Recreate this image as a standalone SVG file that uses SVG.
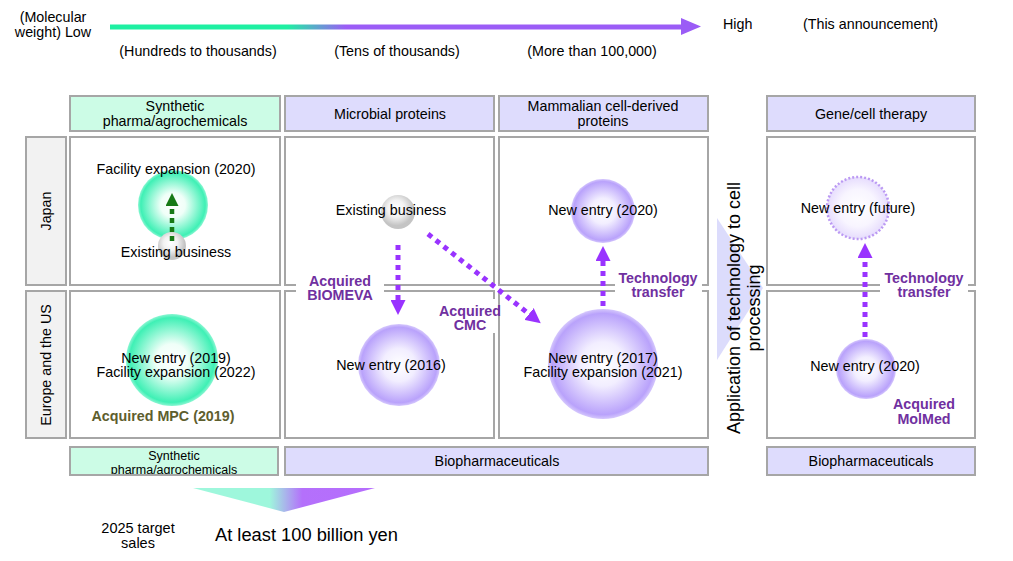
<svg xmlns="http://www.w3.org/2000/svg" width="1013" height="561" viewBox="0 0 1013 561">
<defs>
<style>
text{font-family:"Liberation Sans",Arial,sans-serif;font-size:14.3px;fill:#000}
.m{text-anchor:middle}
.b{font-weight:bold;fill:#7030a0}
.ol{font-weight:bold;fill:#5e5e2e}
.hg{fill:#ccfce6;stroke:#a6a6a6;stroke-width:2}
.hp{fill:#dedcfd;stroke:#a6a6a6;stroke-width:2}
.side{fill:#f2f2f2;stroke:#a6a6a6;stroke-width:2}
.cell{fill:#fff;stroke:#a6a6a6;stroke-width:2}
.pa{fill:none;stroke:#9933ff;stroke-width:5;stroke-dasharray:5 5}
.ga{fill:none;stroke:#177a17;stroke-width:4.5;stroke-dasharray:5 4}
.wb{fill:#fff}
</style>
<radialGradient id="gG"><stop offset="0" stop-color="#fff"/><stop offset="0.35" stop-color="#effff8"/><stop offset="0.92" stop-color="#3ff0b5"/><stop offset="1" stop-color="#3ff0b5" stop-opacity="0.6"/></radialGradient>
<radialGradient id="gP"><stop offset="0" stop-color="#fff"/><stop offset="0.4" stop-color="#f2eeff"/><stop offset="0.92" stop-color="#b9a2fb"/><stop offset="1" stop-color="#b9a2fb" stop-opacity="0.6"/></radialGradient>
<radialGradient id="gF"><stop offset="0" stop-color="#fff"/><stop offset="0.6" stop-color="#f8f5ff"/><stop offset="1" stop-color="#e6dcfd"/></radialGradient>
<radialGradient id="gR" cx="0.45" cy="0.4"><stop offset="0" stop-color="#fff"/><stop offset="0.5" stop-color="#f2f2f2"/><stop offset="1" stop-color="#c4c4c4"/></radialGradient>
<linearGradient id="topG" gradientUnits="userSpaceOnUse" x1="110" y1="0" x2="700" y2="0"><stop offset="0" stop-color="#1ef0a2"/><stop offset="0.3" stop-color="#1ef0a2"/><stop offset="0.4" stop-color="#9b5cf6"/><stop offset="1" stop-color="#9b5cf6"/></linearGradient>
<linearGradient id="funG" gradientUnits="userSpaceOnUse" x1="193" y1="0" x2="375" y2="0"><stop offset="0" stop-color="#9ef7dc"/><stop offset="0.42" stop-color="#9ef7dc"/><stop offset="0.6" stop-color="#b470fb"/><stop offset="1" stop-color="#b66dfd"/></linearGradient>
<marker id="ahP" viewBox="0 0 14 14" markerUnits="userSpaceOnUse" markerWidth="15" markerHeight="15" refX="0" refY="7" orient="auto"><path d="M0,0 L14,7 L0,14 z" fill="#9933ff"/></marker>
<marker id="ahG" viewBox="0 0 14 14" markerUnits="userSpaceOnUse" markerWidth="13" markerHeight="13" refX="0" refY="7" orient="auto"><path d="M0,0 L14,7 L0,14 z" fill="#177a17"/></marker>
<clipPath id="clipB"><rect x="70" y="447" width="208" height="27"/></clipPath>
</defs>
<rect width="1013" height="561" fill="#fff"/>

<g id="scale">
<line x1="110" y1="27" x2="682" y2="27" stroke="url(#topG)" stroke-width="5"/>
<polygon points="681,18 701,26.5 681,35" fill="#9b5cf6"/>
<text class="m" x="53" y="22">(Molecular</text>
<text class="m" x="53" y="37">weight) Low</text>
<text x="723" y="29">High</text>
<text x="803" y="29">(This announcement)</text>
<text class="m" x="198" y="56">(Hundreds to thousands)</text>
<text class="m" x="397" y="56">(Tens of thousands)</text>
<text class="m" x="592" y="56">(More than 100,000)</text>
</g>

<g id="headers">
<rect class="hg" x="70" y="96" width="210" height="35"/>
<text class="m" x="175" y="111">Synthetic</text>
<text class="m" x="175" y="126">pharma/agrochemicals</text>
<rect class="hp" x="285" y="96" width="209" height="35"/>
<text class="m" x="390" y="119">Microbial proteins</text>
<rect class="hp" x="499" y="96" width="209" height="35"/>
<text class="m" x="603" y="111">Mammalian cell-derived</text>
<text class="m" x="603" y="126">proteins</text>
<rect class="hp" x="767" y="96" width="208" height="35"/>
<text class="m" x="871" y="119">Gene/cell therapy</text>
</g>

<g id="sides">
<rect class="side" x="26" y="137" width="40" height="148"/>
<text class="m" transform="translate(51,211) rotate(-90)">Japan</text>
<rect class="side" x="26" y="291" width="40" height="147"/>
<text class="m" transform="translate(51,365) rotate(-90)">Europe and the US</text>
</g>

<g id="cells">
<rect class="cell" x="70" y="137" width="210" height="148"/>
<rect class="cell" x="285" y="137" width="209" height="148"/>
<rect class="cell" x="499" y="137" width="209" height="148"/>
<rect class="cell" x="767" y="137" width="208" height="148"/>
<rect class="cell" x="70" y="291" width="210" height="147"/>
<rect class="cell" x="285" y="291" width="209" height="147"/>
<rect class="cell" x="499" y="291" width="209" height="147"/>
<rect class="cell" x="767" y="291" width="208" height="147"/>
</g>

<g id="cellArrow">
<polygon points="717,218 763,288 717,360" fill="#dcdcfc"/>
<text class="m" style="font-size:18px" transform="translate(740,308) rotate(-90)">Application of technology to cell</text>
<text class="m" style="font-size:18px" transform="translate(760,308) rotate(-90)">processing</text>
</g>

<g id="bottom">
<rect class="hg" x="70" y="447" width="208" height="28"/>
<g clip-path="url(#clipB)">
<text class="m" style="font-size:12.5px" x="174" y="460">Synthetic</text>
<text class="m" style="font-size:12.5px" x="174" y="474">pharma/agrochemicals</text>
</g>
<rect class="hp" x="285" y="447" width="423" height="28"/>
<text class="m" x="497" y="466">Biopharmaceuticals</text>
<rect class="hp" x="767" y="447" width="208" height="28"/>
<text class="m" x="871" y="466">Biopharmaceuticals</text>
<polygon points="193,488 375,488 284,512" fill="url(#funG)"/>
<text class="m" style="font-size:14.5px" x="138" y="533">2025 target</text>
<text class="m" style="font-size:14.5px" x="138" y="548">sales</text>
<text style="font-size:18.3px" x="215" y="541">At least 100 billion yen</text>
</g>

<g id="n-syn-jp">
<circle cx="173" cy="205" r="35" fill="url(#gG)"/>
<circle cx="172" cy="246" r="14" fill="url(#gR)"/>
</g>
<g id="n-syn-eu">
<circle cx="172" cy="360" r="46" fill="url(#gG)"/>
</g>
<g id="n-mic-jp">
<circle cx="398" cy="212" r="17" fill="url(#gR)"/>
</g>
<g id="n-mic-eu">
<circle cx="399" cy="365" r="41" fill="url(#gP)"/>
</g>
<g id="n-mam-jp">
<circle cx="603" cy="211" r="32" fill="url(#gP)"/>
</g>
<g id="n-mam-eu">
<circle cx="603" cy="364" r="55" fill="url(#gP)"/>
</g>
<g id="n-gene-jp">
<circle cx="858" cy="208" r="31" fill="url(#gF)" stroke="#bb99f3" stroke-width="2.5" stroke-dasharray="2 2"/>
</g>
<g id="n-gene-eu">
<circle cx="866" cy="369" r="30" fill="url(#gP)"/>
</g>

<g id="connectors">
<line class="ga" x1="172" y1="241" x2="172" y2="206" marker-end="url(#ahG)"/>
<line class="pa" x1="398" y1="245" x2="398" y2="300" marker-end="url(#ahP)"/>
<line class="pa" x1="428" y1="234" x2="529" y2="314" marker-end="url(#ahP)"/>
<line class="pa" x1="603" y1="306" x2="603" y2="261" marker-end="url(#ahP)"/>
<line class="pa" x1="865" y1="337" x2="865" y2="258" marker-end="url(#ahP)"/>
</g>

<g id="labels">
<rect class="wb" x="296" y="272" width="88" height="30"/>
<text class="m b" x="340" y="286">Acquired</text>
<text class="m b" x="340" y="300">BIOMEVA</text>
<rect class="wb" x="437" y="299" width="60" height="34"/>
<text class="m b" x="470" y="316">Acquired</text>
<text class="m b" x="470" y="330">CMC</text>
<rect class="wb" x="615" y="269" width="87" height="29"/>
<text class="m b" x="658" y="283">Technology</text>
<text class="m b" x="658" y="297">transfer</text>
<rect class="wb" x="880" y="269" width="88" height="29"/>
<text class="m b" x="924" y="283">Technology</text>
<text class="m b" x="924" y="297">transfer</text>
<text class="m b" x="924" y="409">Acquired</text>
<text class="m b" x="924" y="424">MolMed</text>
<text class="m ol" x="163" y="421">Acquired MPC (2019)</text>
</g>

<g id="texts">
<text class="m" x="176" y="174">Facility expansion (2020)</text>
<text class="m" x="176" y="257">Existing business</text>
<text class="m" x="176" y="363">New entry (2019)</text>
<text class="m" x="176" y="377">Facility expansion (2022)</text>
<text class="m" x="391" y="215">Existing business</text>
<text class="m" x="391" y="370">New entry (2016)</text>
<text class="m" x="603" y="215">New entry (2020)</text>
<text class="m" x="603" y="363">New entry (2017)</text>
<text class="m" x="603" y="377">Facility expansion (2021)</text>
<text class="m" x="858" y="213">New entry (future)</text>
<text class="m" x="865" y="371">New entry (2020)</text>
</g>
</svg>
